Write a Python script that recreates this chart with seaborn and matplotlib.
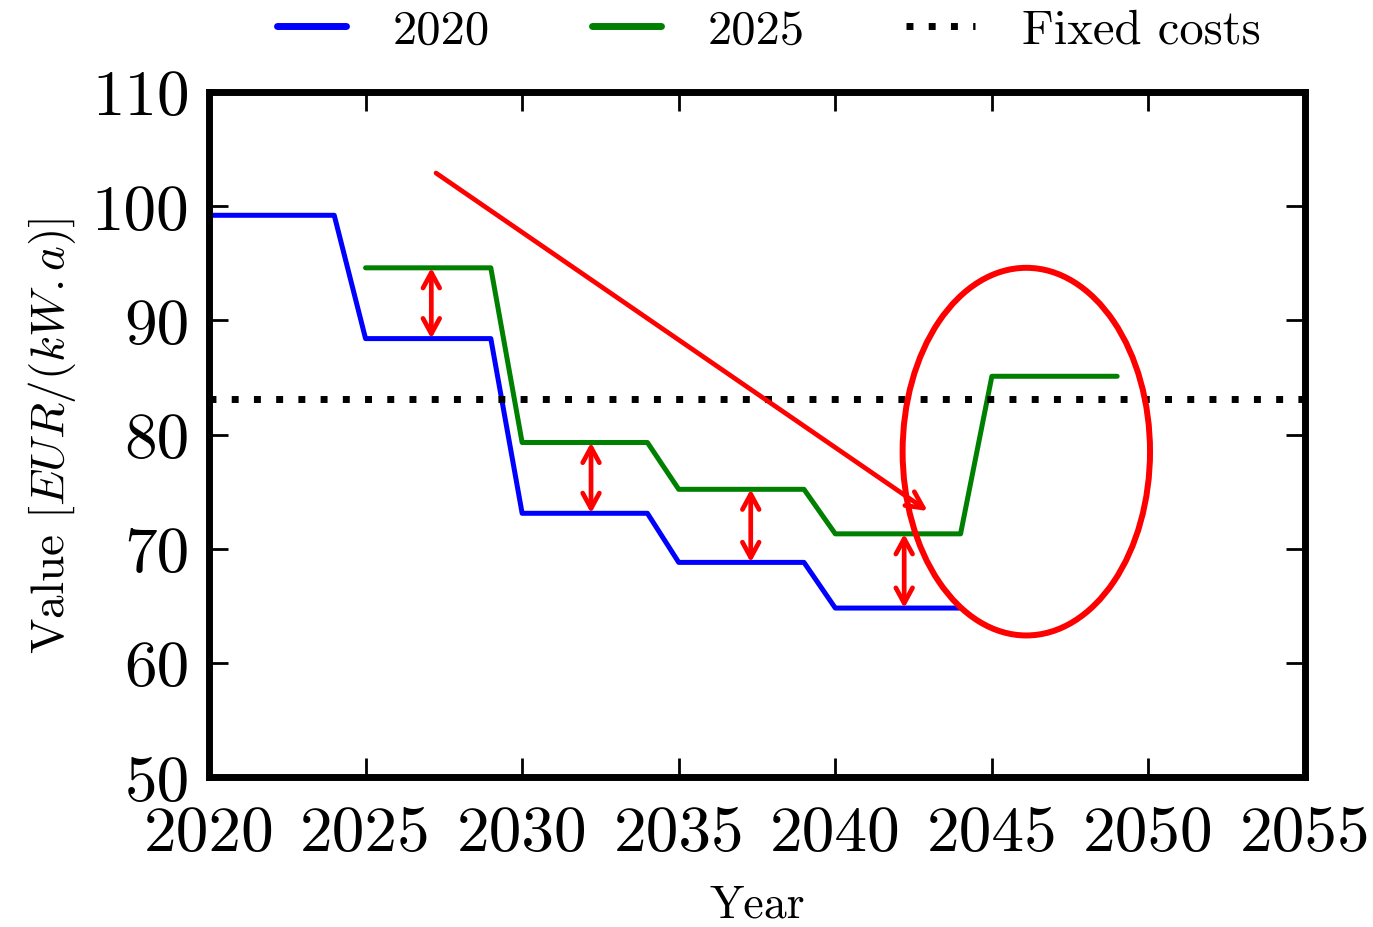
import numpy as np
import pandas as pd
import matplotlib
matplotlib.use("Agg")
import matplotlib.pyplot as plt
from matplotlib.patches import Ellipse
from matplotlib.lines import Line2D
import seaborn as sns

# Annual value per plant vintage (EUR per kW and year)
years_2020 = [2020, 2024, 2025, 2029, 2030, 2034, 2035, 2039, 2040, 2044]
value_2020 = [99.2, 99.2, 88.4, 88.4, 73.1, 73.1, 68.8, 68.8, 64.8, 64.8]

years_2025 = [2025, 2029, 2030, 2034, 2035, 2039, 2040, 2044, 2045, 2049]
value_2025 = [94.6, 94.6, 79.3, 79.3, 75.2, 75.2, 71.3, 71.3, 85.1, 85.1]

fixed_costs = 83.1

series_labels = ["2020", "2025"]
series_colors = ["#0000ff", "#008000"]

x_ticks = [2020, 2025, 2030, 2035, 2040, 2045, 2050, 2055]
y_ticks = [50, 60, 70, 80, 90, 100, 110]

# Gap markers between the two vintages
gap_x = [2027.1, 2032.2, 2037.3, 2042.2]
gap_top = [94.6, 79.3, 75.2, 71.3]
gap_bottom = [88.4, 73.1, 68.8, 64.8]

# Trend arrow and highlighted region
trend_start = (2027.25, 102.9)
trend_end = (2042.95, 73.3)
ellipse_center = (2046.1, 78.5)
ellipse_size = (7.9, 32.2)

df = pd.concat([
    pd.DataFrame({"Year": years_2020, "Value": value_2020, "Vintage": "2020"}),
    pd.DataFrame({"Year": years_2025, "Value": value_2025, "Vintage": "2025"}),
])

sns.set_style("ticks")
plt.rcParams["font.family"] = "serif"
plt.rcParams["font.serif"] = ["cmr10"]
plt.rcParams["mathtext.fontset"] = "cm"
plt.rcParams["axes.formatter.use_mathtext"] = True
plt.rcParams["axes.unicode_minus"] = False
plt.rcParams["text.color"] = "black"
plt.rcParams["axes.labelcolor"] = "black"
plt.rcParams["xtick.color"] = "black"
plt.rcParams["ytick.color"] = "black"

fig = plt.figure(figsize=(13.73, 9.28), dpi=100)
ax = fig.add_axes([0.1522, 0.1616, 0.7983, 0.7382])

sns.lineplot(data=df, x="Year", y="Value", hue="Vintage",
             palette=dict(zip(series_labels, series_colors)),
             linewidth=3.6, ax=ax, legend=False, sort=False, estimator=None)

dotted = (0, (1, 2.2))
ax.axhline(fixed_costs, color="black", linewidth=5,
           linestyle=dotted, dash_capstyle="butt")

ax.set_xlim(2020, 2055)
ax.set_ylim(50, 110)
ax.set_xticks(x_ticks)
ax.set_yticks(y_ticks)
ax.set_xticklabels([str(t) for t in x_ticks], fontsize=47)
ax.set_yticklabels([str(t) for t in y_ticks], fontsize=47)

for s in ax.spines.values():
    s.set_linewidth(5)
    s.set_color("black")
ax.tick_params(direction="in", length=14, width=2, top=True, right=True,
               colors="black")
ax.tick_params(axis="x", pad=20)
ax.tick_params(axis="y", pad=14)

ax.set_xlabel("Year", fontsize=33, labelpad=15)
ax.set_ylabel(r"Value $[EUR/(kW.a)]$", fontsize=34, labelpad=10)

# Annotations in red
red = "#ff0000"
ax.annotate("", xy=trend_end, xytext=trend_start,
            arrowprops=dict(arrowstyle="->,head_length=1.2,head_width=0.6",
                            color=red, lw=3.4, shrinkA=0, shrinkB=0))
for gx, gt, gb in zip(gap_x, gap_top, gap_bottom):
    ax.annotate("", xy=(gx, gb), xytext=(gx, gt),
                arrowprops=dict(arrowstyle="<->,head_length=1.1,head_width=0.6",
                                color=red, lw=3.4, shrinkA=0, shrinkB=0))
ax.add_patch(Ellipse(ellipse_center, ellipse_size[0], ellipse_size[1],
                     fill=False, edgecolor=red, linewidth=4.3, clip_on=False,
                     zorder=5))

handles = [Line2D([], [], color=series_colors[0], linewidth=5),
           Line2D([], [], color=series_colors[1], linewidth=5),
           Line2D([], [], color="black", linewidth=5,
                  linestyle=dotted, dash_capstyle="butt")]
fig.legend(handles, series_labels + ["Fixed costs"], loc="center",
           bbox_to_anchor=(0.56, 0.966), ncol=3, frameon=False,
           fontsize=35, handlelength=1.42, handletextpad=0.95,
           columnspacing=2.1)

fig.savefig("out.png", dpi=100)
